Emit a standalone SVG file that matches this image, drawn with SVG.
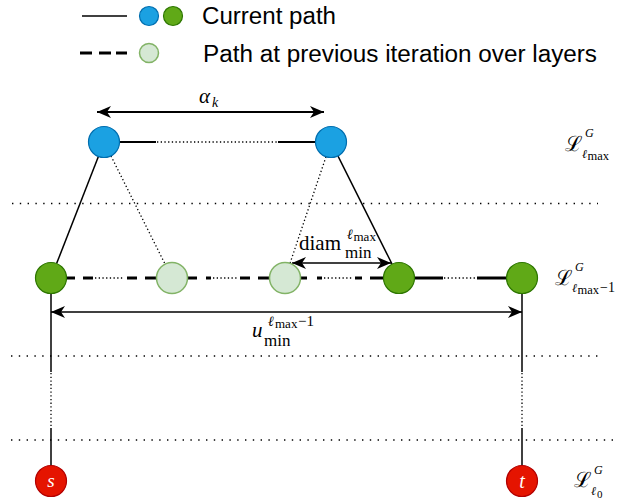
<svg xmlns="http://www.w3.org/2000/svg" width="621" height="502" viewBox="0 0 621 502">
<defs>
<marker id="arr" viewBox="0 0 14 12" refX="14" refY="6" markerWidth="14" markerHeight="12" markerUnits="userSpaceOnUse" orient="auto-start-reverse">
<path d="M0,0 L14,6 L0,12 L4,6 Z" fill="#000"/>
</marker>
<style>
.blue{fill:#1ba1e2;stroke:#006eaf;stroke-width:1.2}
.green{fill:#60a917;stroke:#2d7600;stroke-width:1.2}
.lgreen{fill:#d5e8d4;stroke:#82b366;stroke-width:1.5}
.red{fill:#e51400;stroke:#b20000;stroke-width:1.2}
.solid{stroke:#000;stroke-width:1.5;fill:none}
.thick{stroke:#000;stroke-width:3;fill:none}
.dot{stroke:#000;stroke-width:1.3;stroke-dasharray:1.3 2.4;fill:none}
.layer{stroke:#000;stroke-width:1.4;stroke-dasharray:1.4 6.4;fill:none}
.arrow{stroke:#000;stroke-width:1.6;fill:none;marker-start:url(#arr);marker-end:url(#arr)}
.leg{font-family:"Liberation Sans",Arial,sans-serif;font-size:23px;fill:#000}
.m{font-family:"Liberation Serif","Times New Roman",serif;fill:#000}
.it{font-style:italic}
.sc{font-family:"DejaVu Serif","Liberation Serif",serif;font-style:normal}
</style>
</defs>

<g id="legend">
<line x1="82" y1="16" x2="127" y2="16" class="solid"/>
<circle cx="149" cy="16" r="9.5" class="blue"/>
<circle cx="173" cy="16" r="9.5" class="green"/>
<text x="202" y="24" class="leg" textLength="134" lengthAdjust="spacingAndGlyphs">Current path</text>
<line x1="80" y1="53" x2="92" y2="53" class="thick"/>
<line x1="99" y1="53" x2="111" y2="53" class="thick"/>
<line x1="116" y1="53" x2="127" y2="53" class="thick"/>
<circle cx="149" cy="53" r="9.5" class="lgreen"/>
<text x="203" y="62" class="leg" textLength="394" lengthAdjust="spacingAndGlyphs">Path at previous iteration over layers</text>
</g>

<g id="layers">
<line x1="12" y1="203.5" x2="598" y2="203.5" class="layer"/>
<line x1="11" y1="356" x2="598" y2="356" class="layer"/>
<line x1="11" y1="440" x2="613" y2="440" class="layer"/>
</g>

<g id="connectors">
<line x1="119.5" y1="142" x2="156" y2="142" class="solid" style="stroke-width:2"/>
<line x1="157" y1="142" x2="278" y2="142" class="dot"/>
<line x1="278" y1="142" x2="315.5" y2="142" class="solid" style="stroke-width:2"/>
<line x1="98.4" y1="156.4" x2="56.6" y2="263.6" class="solid"/>
<line x1="337.9" y1="155.9" x2="392" y2="264" class="solid"/>
<line x1="111" y1="156" x2="165" y2="264" class="dot"/>
<line x1="326" y1="156.7" x2="290" y2="263.3" class="dot"/>
<line x1="66.5" y1="278" x2="75" y2="278" class="thick"/>
<line x1="83" y1="278" x2="93" y2="278" class="thick"/>
<line x1="95" y1="278" x2="124" y2="278" class="dot"/>
<line x1="127" y1="278" x2="137" y2="278" class="thick"/>
<line x1="145" y1="278" x2="156.5" y2="278" class="thick"/>
<line x1="187.5" y1="278" x2="197" y2="278" class="thick"/>
<line x1="206" y1="278" x2="211" y2="278" class="thick"/>
<line x1="213" y1="278" x2="237" y2="278" class="dot"/>
<line x1="240" y1="278" x2="250" y2="278" class="thick"/>
<line x1="258" y1="278" x2="269.5" y2="278" class="thick"/>
<line x1="300.5" y1="278" x2="307" y2="278" class="thick"/>
<line x1="317" y1="278" x2="322" y2="278" class="thick"/>
<line x1="324" y1="278" x2="352" y2="278" class="dot"/>
<line x1="355" y1="278" x2="362" y2="278" class="thick"/>
<line x1="370" y1="278" x2="383.5" y2="278" class="thick"/>
<line x1="414.5" y1="278" x2="443" y2="278" class="thick"/>
<line x1="444" y1="278" x2="477" y2="278" class="dot"/>
<line x1="477" y1="278" x2="506.5" y2="278" class="thick"/>
<line x1="51" y1="293.5" x2="51" y2="372" class="solid"/>
<line x1="51" y1="373" x2="51" y2="428" class="dot"/>
<line x1="51" y1="428" x2="51" y2="465.5" class="solid"/>
<line x1="522" y1="293.5" x2="522" y2="372" class="solid"/>
<line x1="522" y1="373" x2="522" y2="428" class="dot"/>
<line x1="522" y1="428" x2="522" y2="465.5" class="solid"/>
<line x1="97" y1="112" x2="324" y2="112" class="arrow" style="stroke-width:2"/>
<line x1="292" y1="263" x2="391" y2="263" class="arrow"/>
<line x1="51" y1="312" x2="522" y2="312" class="arrow"/>
</g>

<g id="node-top-left"><circle cx="104" cy="142" r="15.5" class="blue"/></g>
<g id="node-top-right"><circle cx="331" cy="142" r="15.5" class="blue"/></g>
<g id="node-g1"><circle cx="51" cy="278" r="15.5" class="green"/></g>
<g id="node-p1"><circle cx="172" cy="278" r="15.5" class="lgreen"/></g>
<g id="node-p2"><circle cx="285" cy="278" r="15.5" class="lgreen"/></g>
<g id="node-g3"><circle cx="399" cy="278" r="15.5" class="green"/></g>
<g id="node-g4"><circle cx="522" cy="278" r="15.5" class="green"/></g>
<g id="node-s"><circle cx="51" cy="481" r="15.5" class="red"/>
<text x="51" y="487" class="m it" font-size="19" style="fill:#fff" text-anchor="middle">s</text></g>
<g id="node-t"><circle cx="522" cy="481" r="15.5" class="red"/>
<text x="522" y="488" class="m it" font-size="20" style="fill:#fff" text-anchor="middle">t</text></g>

<g id="labels">
<text class="m" font-size="21"><tspan x="199" y="103" class="it">α</tspan><tspan x="212" y="107" font-size="14" class="it">k</tspan></text>

<text class="m" font-size="21"><tspan x="299" y="250">diam</tspan></text>
<text class="m"><tspan x="347" y="239" font-size="14" class="it">ℓ</tspan><tspan x="353.5" y="241" font-size="13">max</tspan></text>
<text class="m" font-size="17"><tspan x="345" y="258">min</tspan></text>

<text class="m"><tspan x="252" y="337" font-size="21" class="it">u</tspan></text>
<text class="m"><tspan x="268" y="326" font-size="14" class="it">ℓ</tspan><tspan x="275" y="328" font-size="13">max</tspan><tspan x="298" y="326" font-size="15">−1</tspan></text>
<text class="m" font-size="17"><tspan x="264" y="346">min</tspan></text>

<text class="m"><tspan x="565" y="151" font-size="21" class="sc">ℒ</tspan><tspan x="585" y="137" font-size="12" class="it">G</tspan></text>
<text class="m"><tspan x="582" y="158" font-size="12" class="it">ℓ</tspan><tspan x="587.5" y="160" font-size="12.5">max</tspan></text>
<text class="m"><tspan x="555" y="285" font-size="21" class="sc">ℒ</tspan><tspan x="575" y="271" font-size="12" class="it">G</tspan></text>
<text class="m"><tspan x="572" y="292" font-size="12" class="it">ℓ</tspan><tspan x="577.5" y="294" font-size="12.5">max</tspan><tspan x="600" y="292" font-size="14">−1</tspan></text>
<text class="m"><tspan x="574" y="487" font-size="21" class="sc">ℒ</tspan><tspan x="594" y="474" font-size="12" class="it">G</tspan></text>
<text class="m"><tspan x="591" y="495" font-size="12" class="it">ℓ</tspan><tspan x="597" y="498" font-size="11">0</tspan></text>
</g>
</svg>
